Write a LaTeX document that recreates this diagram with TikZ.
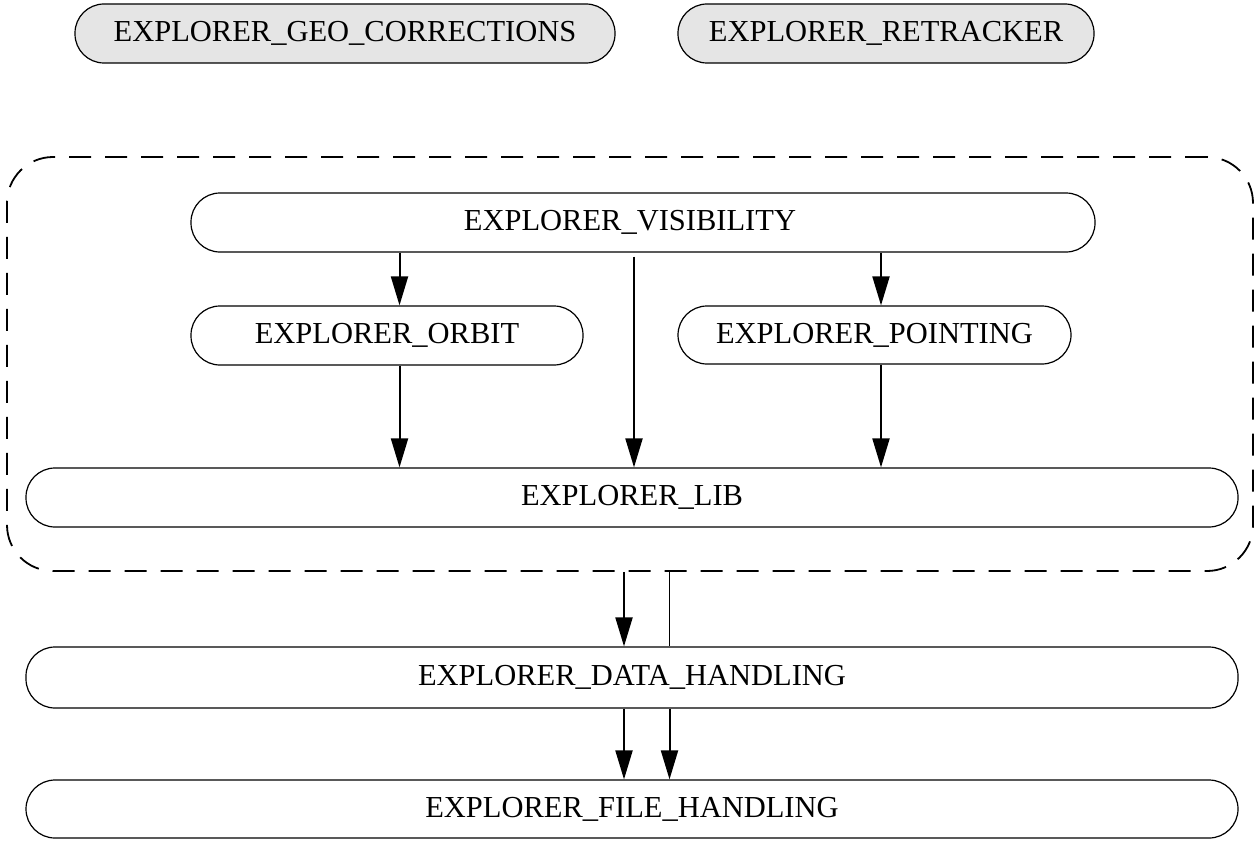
\documentclass[tikz,border=0pt]{standalone}
\usepackage{fontspec}
\setmainfont{Liberation Serif}
\usetikzlibrary{arrows.meta}
\begin{document}
\begin{tikzpicture}[x=1pt,y=-1pt]
\tikzset{
  pill/.style={draw=black, line width=1.2pt, rounded corners=29pt, inner sep=0pt,
    font=\fontsize{30.5}{36}\selectfont, anchor=center},
  greyfill/.style={fill=black!10},
  arr/.style={line width=2pt, -{Triangle[length=29pt,width=17pt]}},
  plainline/.style={line width=1.1pt},
  groupbox/.style={draw=black, line width=1.8pt, dash pattern=on 22pt off 14pt,
    rounded corners=46pt, inner sep=0pt}
}
\useasboundingbox (0,0) rectangle (1257,843);
% top row
\node[pill,greyfill,minimum width=540pt,minimum height=59pt] (geo) at (345,33.5) {EXPLORER\_GEO\_CORRECTIONS};
\node[pill,greyfill,minimum width=416pt,minimum height=59pt] (ret) at (886,33.5) {EXPLORER\_RETRACKER};
% group
\node[groupbox,minimum width=1246pt,minimum height=414pt] (grp) at (630,364) {};
\node[pill,minimum width=904pt,minimum height=59pt] (vis) at (643,222.5) {EXPLORER\_VISIBILITY\hspace*{26pt}};
\node[pill,minimum width=392pt,minimum height=59pt] (orbit) at (387,335.5) {EXPLORER\_ORBIT};
\node[pill,minimum width=393pt,minimum height=58pt] (point) at (874.5,335) {EXPLORER\_POINTING};
\node[pill,minimum width=1212pt,minimum height=59pt] (lib) at (632,497.5) {EXPLORER\_LIB};
\node[pill,minimum width=1212pt,minimum height=61pt] (data) at (632,677.5) {EXPLORER\_DATA\_HANDLING};
\node[pill,minimum width=1212pt,minimum height=58pt] (file) at (632,809) {EXPLORER\_FILE\_HANDLING};
% connector columns
\coordinate (xa) at (399.5,0);
\coordinate (xb) at (634,0);
\coordinate (xc) at (881,0);
\coordinate (xd) at (624,0);
\coordinate (xe) at (669.5,0);
\draw[arr] (vis.south -| xa) -- (orbit.north -| xa);
\draw[arr] (orbit.south -| xa) -- (lib.north -| xa);
\draw[arr,shorten <=4pt] (vis.south -| xb) -- (lib.north -| xb);
\draw[arr] (vis.south -| xc) -- (point.north -| xc);
\draw[arr] (point.south -| xc) -- (lib.north -| xc);
\draw[arr] (grp.south -| xd) -- (data.north -| xd);
\draw[plainline] (grp.south -| xe) -- (data.north -| xe);
\draw[arr] (data.south -| xd) -- (file.north -| xd);
\draw[arr] (data.south -| xe) -- (file.north -| xe);
\end{tikzpicture}
\end{document}
